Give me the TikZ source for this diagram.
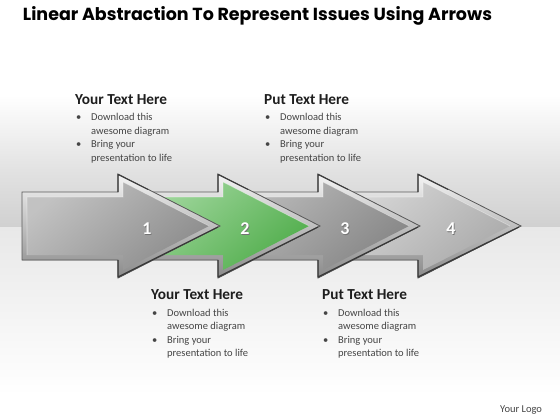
\documentclass[tikz,border=0pt]{standalone}
\usepackage{fontspec}
\setmainfont{Carlito}
\newfontfamily\titlefont{Poppins}
\definecolor{bgA}{HTML}{E2E2E2}
\definecolor{bgB}{HTML}{D0D0D0}
\definecolor{bgC}{HTML}{E8E8E8}
\definecolor{edge}{HTML}{5A5A5A}
\definecolor{edgeD}{HTML}{3A3A3A}
\definecolor{silverT}{HTML}{F4F4F4}
\definecolor{silverB}{HTML}{8A8A8A}
\definecolor{oneL}{HTML}{C2C2C2}
\definecolor{oneD}{HTML}{8C8C8C}
\definecolor{twoL}{HTML}{A3D8A0}
\definecolor{twoD}{HTML}{52AE4D}
\definecolor{thrL}{HTML}{BABABA}
\definecolor{thrD}{HTML}{868686}
\definecolor{fouL}{HTML}{D8D8D8}
\definecolor{fouD}{HTML}{ABABAB}
\definecolor{headcol}{HTML}{1E1E1E}
\definecolor{bodycol}{HTML}{454545}
\newcommand\myarrow[5]{% tail, notch, tip, light, dark
  \filldraw[draw=edge, line width=0.8, top color=silverT, bottom color=silverB]
    (#1,192) -- (#2,192) -- (#2,174) -- (#3,226) -- (#2,278) -- (#2,260) -- (#1,260) -- cycle;
  \shade[top color=#4, bottom color=#5, shading angle=40]
    (#1+5,197) -- (#2+5,197) -- (#2+5,182) -- (#3-11,226) -- (#2+5,270) -- (#2+5,255) -- (#1+5,255) -- cycle;
  \draw[white, opacity=0.4, line width=0.7]
    (#1+5,255) -- (#1+5,197) -- (#2+5,197) -- (#2+5,182) -- (#3-11,226);
  \draw[edgeD, line width=1.3, line join=round]
    (#3-2,227) -- (#2,277) -- (#2,260);
  \draw[edgeD, line width=1.1] (#2,192) -- (#2,174.5) -- (#2+30,189.5);
}
\newcommand\txtblock[4]{% name, x, y, heading
  \node[headsty] (#1h) at (#2,#3+5) {#4};
  \node[dotsty] (#1d1) at (#2+1,#3+22) {•};
  \node[bodysty] (#1l1) at (#2+16,#3+22) {Download this};
  \node[bodysty] (#1l2) at (#2+16,#3+35.3) {awesome diagram};
  \node[dotsty] (#1d2) at (#2+1,#3+48.6) {•};
  \node[bodysty] (#1l3) at (#2+16,#3+48.6) {Bring your};
  \node[bodysty] (#1l4) at (#2+16,#3+62) {presentation to life};
}
\begin{document}
\begin{tikzpicture}[x=1pt,y=-1pt,
  headsty/.style={anchor=base west, inner sep=0, text=headcol, font=\fontsize{15.3}{16}\selectfont\bfseries},
  bodysty/.style={anchor=base west, inner sep=0, text=bodycol, font=\fontsize{10.5}{12}\selectfont},
  dotsty/.style={anchor=base west, inner sep=0, text=bodycol, font=\fontsize{10.5}{12}\selectfont},
  numsty/.style={text=white, inner sep=0, font=\fontsize{18}{18}\selectfont\bfseries},
  numshadow/.style={text=black!55, inner sep=0, font=\fontsize{18}{18}\selectfont\bfseries}]
\useasboundingbox (0,0) rectangle (560,420);
\fill[white] (0,0) rectangle (560,420);
\shade[top color=white, bottom color=bgA] (0,95) rectangle (560,170);
\shade[top color=bgA, bottom color=bgB] (0,170) rectangle (560,227.5);
\shade[top color=bgC, bottom color=white] (0,227) rectangle (560,395);
% title
\node[inner sep=0] (title) at (257.5,16) {\resizebox{469pt}{!}{\titlefont\bfseries Linear Abstraction To Represent Issues Using Arrows}};
% arrows, back to front
\myarrow{322}{418}{521}{fouL}{fouD}
\myarrow{222}{318}{420}{thrL}{thrD}
\myarrow{122}{218}{320}{twoL}{twoD}
\myarrow{22}{118}{220}{oneL}{oneD}
% numbers
\foreach \n/\x in {1/147,2/245,3/345,4/451}{
  \node[numshadow] (s\n) at (\x+0.8,229.8) {\n};
  \node[numsty] (n\n) at (\x,229) {\n};
}
% text blocks
\txtblock{a}{75}{99}{Your Text Here}
\txtblock{b}{264}{99}{Put Text Here}
\txtblock{c}{151}{294.5}{Your Text Here}
\txtblock{d}{322}{294.5}{Put Text Here}
\node[anchor=base west, inner sep=0, text=bodycol, font=\fontsize{10.5}{12}\selectfont] (logo) at (500,412) {Your Logo};
\end{tikzpicture}
\end{document}
